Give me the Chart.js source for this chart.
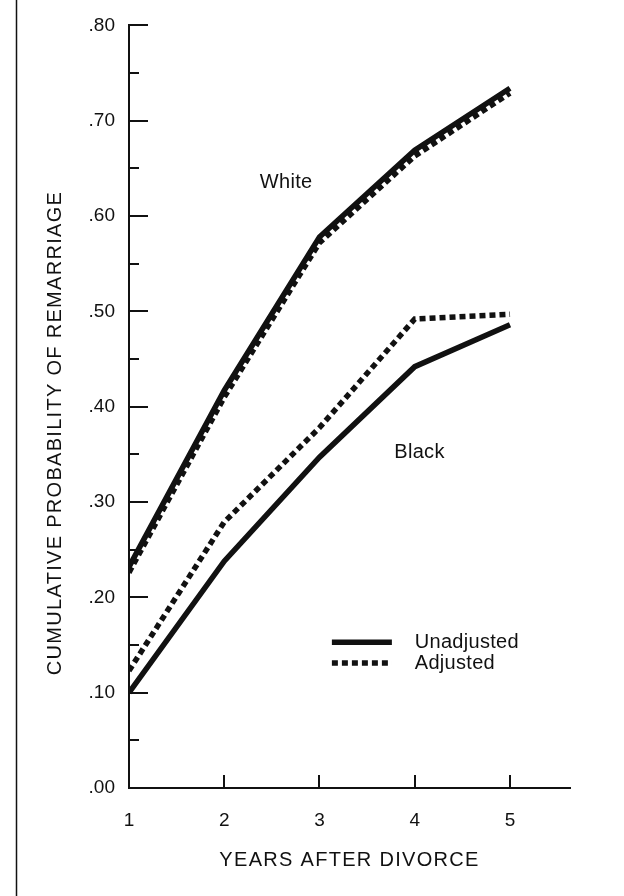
<!DOCTYPE html>
<html>
<head>
<meta charset="utf-8">
<script src="https://cdn.jsdelivr.net/npm/chart.js@4.4.1/dist/chart.umd.min.js"></script>
<style>
  body { margin: 0; background: #fff; }
  canvas { display: block; }
</style>
</head>
<body>
<canvas id="remarriage" width="624" height="896"></canvas>
<script>
const years = [1, 2, 3, 4, 5];
const whiteUnadjusted = [0.232, 0.417, 0.578, 0.669, 0.734];
const whiteAdjusted = [0.226, 0.41, 0.572, 0.663, 0.729];
const blackUnadjusted = [0.10, 0.238, 0.347, 0.442, 0.486];
const blackAdjusted = [0.123, 0.279, 0.378, 0.492, 0.497];
const yTicks = [0, 0.1, 0.2, 0.3, 0.4, 0.5, 0.6, 0.7, 0.8];

const ink = '#111';
const fontFace = '"Liberation Sans", Arial, Helvetica, sans-serif';

function points(values) {
    return years.map((yr, i) => ({ x: yr, y: values[i] }));
}

function lineSet(label, values, dashed) {
    return {
        label: label,
        data: points(values),
        borderColor: ink,
        borderWidth: 5.5,
        borderDash: dashed ? [6, 4] : [],
        pointRadius: 0,
        tension: 0,
        fill: false,
    };
}

// ticks on the inner side of the axes, frame line, titles, labels and key
const decorations = {
    id: 'decorations',
    beforeDraw(chart) {
        const ctx = chart.ctx;
        ctx.save();
        ctx.fillStyle = '#fff';
        ctx.fillRect(0, 0, chart.width, chart.height);
        ctx.strokeStyle = ink;
        ctx.lineWidth = 1.5;
        ctx.beginPath();
        ctx.moveTo(16.5, 0);
        ctx.lineTo(16.5, chart.height);
        ctx.stroke();
        ctx.restore();
    },
    beforeDatasetsDraw(chart) {
        const { ctx, chartArea, scales: { x, y } } = chart;
        ctx.save();
        ctx.strokeStyle = ink;
        ctx.lineWidth = 2;
        y.ticks.forEach(t => {
            if (t.value === 0) return;
            const py = Math.round(y.getPixelForValue(t.value));
            const major = Math.round(t.value * 100) % 10 === 0;
            ctx.beginPath();
            ctx.moveTo(chartArea.left, py);
            ctx.lineTo(chartArea.left + (major ? 19 : 10), py);
            ctx.stroke();
        });
        x.ticks.forEach(t => {
            if (t.value === 1) return;
            const px = Math.round(x.getPixelForValue(t.value));
            ctx.beginPath();
            ctx.moveTo(px, chartArea.bottom);
            ctx.lineTo(px, chartArea.bottom - 13);
            ctx.stroke();
        });
        ctx.restore();
    },
    afterDraw(chart) {
        const { ctx, chartArea, scales: { x, y } } = chart;
        ctx.save();
        ctx.fillStyle = ink;
        ctx.textAlign = 'center';
        ctx.textBaseline = 'middle';
        ctx.font = '20px ' + fontFace;
        ctx.letterSpacing = '1.3px';
        // axis titles
        ctx.fillText('YEARS AFTER DIVORCE', (chartArea.left + chartArea.right) / 2, 860);
        ctx.save();
        ctx.translate(55, 433);
        ctx.rotate(-Math.PI / 2);
        ctx.fillText('CUMULATIVE PROBABILITY OF REMARRIAGE', 0, 0);
        ctx.restore();
        ctx.letterSpacing = '0.3px';
        // group labels
        ctx.fillText('White', x.getPixelForValue(2.65), y.getPixelForValue(0.635));
        ctx.fillText('Black', x.getPixelForValue(4.05), y.getPixelForValue(0.352));
        // key
        const keyItems = [
            { text: 'Unadjusted', dash: [], value: 0.153 },
            { text: 'Adjusted', dash: [6, 4], value: 0.131 },
        ];
        ctx.textAlign = 'left';
        keyItems.forEach(item => {
            const py = y.getPixelForValue(item.value);
            ctx.strokeStyle = ink;
            ctx.lineWidth = 5.5;
            ctx.setLineDash(item.dash);
            ctx.beginPath();
            ctx.moveTo(x.getPixelForValue(3.13), py);
            ctx.lineTo(x.getPixelForValue(3.76), py);
            ctx.stroke();
            ctx.setLineDash([]);
            ctx.fillText(item.text, x.getPixelForValue(4.0), py);
        });
        ctx.restore();
    }
};

const config = {
    type: 'line',
    data: {
        datasets: [
            lineSet('White unadjusted', whiteUnadjusted, false),
            lineSet('White adjusted', whiteAdjusted, true),
            lineSet('Black unadjusted', blackUnadjusted, false),
            lineSet('Black adjusted', blackAdjusted, true),
        ]
    },
    options: {
        responsive: false,
        animation: false,
        layout: { padding: { top: 20, right: 54, left: 0, bottom: 0 } },
        plugins: {
            legend: { display: false },
            tooltip: { enabled: false },
        },
        scales: {
            x: {
                type: 'linear',
                min: 1,
                max: 5.63,
                afterFit: function(scale) { scale.height = 108; },
                afterBuildTicks: function(scale) {
                    scale.ticks = years.map(v => ({ value: v }));
                },
                grid: { display: false, drawTicks: false },
                border: { display: true, color: ink, width: 2 },
                ticks: {
                    color: ink,
                    padding: 21,
                    font: { family: fontFace, size: 19 },
                    callback: function(value) { return String(value); }
                }
            },
            y: {
                min: 0,
                max: 0.8,
                afterFit: function(scale) { scale.width = 129; },
                afterBuildTicks: function(scale) {
                    const all = [];
                    for (let i = 0; i < yTicks.length; i++) {
                        all.push({ value: yTicks[i] });
                        if (i < yTicks.length - 1) all.push({ value: (yTicks[i] + yTicks[i + 1]) / 2 });
                    }
                    scale.ticks = all;
                },
                grid: { display: false, drawTicks: false },
                border: { display: true, color: ink, width: 2 },
                ticks: {
                    color: ink,
                    padding: 14,
                    font: { family: fontFace, size: 19 },
                    callback: function(value) {
                        if (Math.round(value * 100) % 10 !== 0) return '';
                        return value.toFixed(2).replace(/^0/, '');
                    }
                }
            }
        }
    },
    plugins: [decorations]
};

const remarriageChart = new Chart(document.getElementById('remarriage'), config);
</script>
</body>
</html>
